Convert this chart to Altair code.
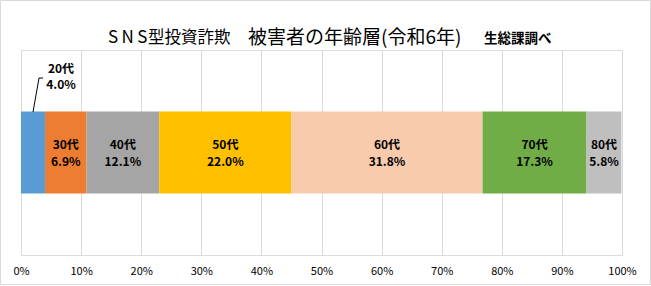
import altair as alt
import pandas as pd

# ---- data ----
categories = ["20代", "30代", "40代", "50代", "60代", "70代", "80代"]
shares = [4.0, 6.9, 12.1, 22.0, 31.8, 17.3, 5.8]
colors = ["#5B9BD5", "#ED7D31", "#A5A5A5", "#FFC000", "#F8CBAD", "#70AD47", "#BFBFBF"]
tick_values = [0, 10, 20, 30, 40, 50, 60, 70, 80, 90, 100]
title_parts = ["S\u2009N\u2009S", "型投資詐欺", "被害者の年齢層(令和6年)"]
title_sub = "生総課調べ"

df = pd.DataFrame({"cat": categories, "share": shares, "idx": list(range(len(categories)))})
df["label"] = [f"{c}\n{v:.1f}%" for c, v in zip(categories, shares)]

W, H = 601, 205
FONT = "Noto Sans CJK JP"

base = alt.Chart(df).transform_window(
    cum="sum(share)", sort=[{"field": "idx"}], frame=[None, 0]
).transform_calculate(mid="datum.cum - datum.share / 2")

xscale = alt.Scale(domain=[0, 100], nice=False, zero=True)

bars = alt.Chart(df).mark_bar(size=82).encode(
    x=alt.X(
        "share:Q",
        stack="zero",
        scale=xscale,
        axis=alt.Axis(
            values=tick_values,
            labelExpr="datum.value + '%'",
            title=None,
            grid=True,
            gridColor="#D9D9D9",
            gridWidth=1,
            domain=False,
            ticks=False,
            tickSize=0,
            labelFlush=False,
            labelFontSize=11,
            labelColor="black",
            labelFont=FONT,
            labelPadding=10,
        ),
    ),
    color=alt.Color("cat:N", scale=alt.Scale(domain=categories, range=colors), legend=None),
    order=alt.Order("idx:Q"),
)

inner_text = base.transform_filter("datum.idx > 0").mark_text(
    font=FONT, fontSize=12, fontWeight="bold", lineBreak="\n", lineHeight=17,
    color="black", baseline="middle", align="center",
).encode(x=alt.X("mid:Q", scale=xscale), y=alt.value(95), text="label:N")

outer_text = base.transform_filter("datum.idx == 0").mark_text(
    font=FONT, fontSize=12, fontWeight="bold", lineBreak="\n", lineHeight=16,
    color="black", baseline="middle", align="center", dx=28,
).encode(x=alt.X("mid:Q", scale=xscale), y=alt.value(19), text="label:N")

leader1 = base.transform_filter("datum.idx == 0").mark_rule(
    color="black", strokeWidth=1, x2Offset=6
).encode(x=alt.X("mid:Q", scale=xscale), x2="mid:Q", y=alt.value(62), y2=alt.value(28))

leader2 = base.transform_filter("datum.idx == 0").mark_rule(
    color="black", strokeWidth=1, xOffset=6, x2Offset=10
).encode(x=alt.X("mid:Q", scale=xscale), x2="mid:Q", y=alt.value(28), y2=alt.value(28))

TY = -12
t1a = alt.Chart(pd.DataFrame({"t": [title_parts[0]]})).mark_text(
    align="left", baseline="middle", fontSize=17, font=FONT, color="black"
).encode(x=alt.value(87), y=alt.value(TY), text="t:N")

t1b = alt.Chart(pd.DataFrame({"t": [title_parts[1]]})).mark_text(
    align="left", baseline="middle", fontSize=16.5, font=FONT, color="black"
).encode(x=alt.value(127), y=alt.value(TY), text="t:N")

t1c = alt.Chart(pd.DataFrame({"t": [title_parts[2]]})).mark_text(
    align="left", baseline="middle", fontSize=19, font=FONT, color="black"
).encode(x=alt.value(227), y=alt.value(TY), text="t:N")

t2 = alt.Chart(pd.DataFrame({"t": [title_sub]})).mark_text(
    align="left", baseline="middle", fontSize=13.5, fontWeight="bold", font=FONT, color="black"
).encode(x=alt.value(463), y=alt.value(TY + 0.5), text="t:N")

border = alt.Chart(pd.DataFrame({"a": [0]})).mark_rect(
    fill="white", fillOpacity=0, stroke="#D9D9D9", strokeWidth=1
).encode(x=alt.value(-20.5), x2=alt.value(629.5), y=alt.value(-49.5), y2=alt.value(234.5))

chart = alt.layer(
    border, bars, inner_text, outer_text, leader1, leader2, t1a, t1b, t1c, t2
).properties(
    width=W, height=H,
    padding={"left": 21, "top": 50, "right": 29, "bottom": 31},
    autosize=alt.AutoSizeParams(type="none"),
).configure_view(strokeWidth=0).configure(background="white")

chart.save("out.html", embed_options={"renderer": "svg", "actions": False})
